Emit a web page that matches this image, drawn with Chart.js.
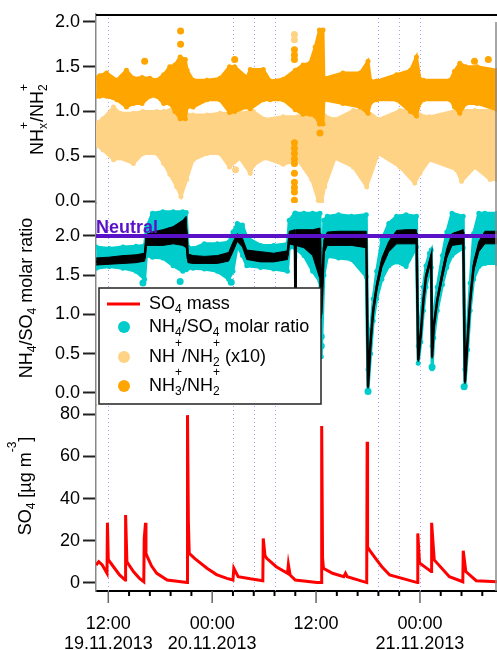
<!DOCTYPE html>
<html>
<head>
<meta charset="utf-8">
<style>
  html, body { margin: 0; padding: 0; background: #fff; }
  #wrap { width: 497px; height: 650px; }
</style>
</head>
<body>
<div id="wrap"><canvas id="chart" width="497" height="650"></canvas></div>
<script src="https://cdn.jsdelivr.net/npm/chart.js@4"></script>
<script>
// time axis is in hours counted from 19.11.2013 00:00
const xMin = 10.58, xMax = 56.9;
const majorHours = [12, 24, 36, 48];
const timeLabels = ['12:00', '00:00', '12:00', '00:00'];
const dateLabels = ['19.11.2013', '20.11.2013', '', '21.11.2013'];
const minorStepHours = 2.4;
const markerHours = [12, 26.4, 28.8, 31.2, 43.2, 45.6, 48];
const ratioTicks = [0, 0.5, 1, 1.5, 2];
const so4Ticks = [0, 20, 40, 60, 80];
const neutralRatio = 2.0;

// top panel: NH3+/NH2+ cloud (upper / lower edge)
const nh3Hours = [10.6, 11.0, 11.8, 13.0, 14.1, 14.9, 15.9, 16.8, 17.6, 18.4, 19.1, 19.7, 20.3, 20.9, 21.1, 21.8, 23.4, 24.9, 26.0, 26.6, 28.0, 28.4, 29.9, 30.7, 32.2, 33.6, 34.5, 35.3, 35.9, 36.4, 36.8, 36.9, 39.1, 41.1, 42.0, 42.3, 43.0, 45.3, 46.9, 47.6, 48.0, 48.4, 51.5, 52.0, 52.6, 53.3, 54.6, 56.9];
const nh3High = [1.37, 1.40, 1.43, 1.35, 1.46, 1.37, 1.38, 1.37, 1.35, 1.41, 1.50, 1.52, 1.61, 1.58, 1.46, 1.35, 1.35, 1.37, 1.50, 1.50, 1.38, 1.47, 1.47, 1.34, 1.36, 1.46, 1.52, 1.54, 1.72, 1.91, 1.91, 1.37, 1.43, 1.43, 1.56, 1.34, 1.34, 1.41, 1.46, 1.61, 1.36, 1.35, 1.35, 1.45, 1.54, 1.50, 1.50, 1.46];
const nh3Low = [1.17, 1.17, 1.17, 1.13, 1.05, 1.09, 1.09, 1.17, 1.17, 1.09, 1.09, 1.00, 0.92, 0.92, 1.05, 1.05, 1.13, 1.13, 0.99, 1.00, 1.05, 1.03, 1.13, 1.13, 1.13, 1.02, 0.97, 0.97, 0.95, 0.86, 0.86, 1.13, 1.09, 1.05, 0.98, 1.10, 1.13, 1.13, 1.00, 0.95, 1.10, 1.13, 1.13, 1.05, 0.98, 1.09, 1.09, 1.02];
const nh3DotHours = [16.2, 20.35, 20.35, 26.6, 33.5, 33.5, 33.5, 33.5, 33.5, 33.5, 33.5, 33.5, 33.5, 33.5, 33.5, 33.5, 33.5, 36.45, 54.3, 55.9];
const nh3DotValues = [1.56, 1.75, 1.90, 1.58, 1.69, 1.63, 1.58, 0.65, 0.59, 0.53, 0.47, 0.42, 0.31, 0.21, 0.15, 0.10, 0.01, 0.76, 1.56, 1.58];

// top panel: NH+/NH2+ (x10) cloud
const nhHours = [10.55, 11.4, 12.6, 13.35, 14.9, 16.0, 17.6, 18.4, 19.1, 19.9, 20.4, 21.05, 21.8, 23.4, 24.9, 26.0, 27.2, 28.4, 28.75, 30.1, 32.2, 33.9, 35.5, 36.25, 36.65, 37.0, 38.2, 40.3, 41.85, 43.2, 45.7, 47.4, 48.0, 49.1, 52.2, 52.8, 54.35, 56.1, 56.9];
const nhHigh = [0.87, 0.92, 1.05, 0.98, 0.98, 1.00, 1.00, 1.00, 1.01, 1.00, 0.98, 0.97, 0.96, 0.96, 0.98, 0.98, 0.98, 1.00, 1.00, 0.91, 0.94, 0.94, 1.01, 1.02, 1.03, 0.95, 0.91, 1.01, 1.01, 0.91, 1.01, 1.01, 0.96, 0.94, 1.01, 1.01, 1.01, 1.01, 1.01];
const nhLow = [0.63, 0.57, 0.46, 0.48, 0.42, 0.53, 0.53, 0.42, 0.30, 0.16, 0.05, 0.24, 0.46, 0.53, 0.53, 0.38, 0.48, 0.31, 0.40, 0.48, 0.41, 0.46, 0.24, 0.01, 0.00, 0.16, 0.48, 0.38, 0.16, 0.53, 0.38, 0.20, 0.31, 0.46, 0.35, 0.22, 0.38, 0.24, 0.24];
const nhDotHours = [33.5, 33.5, 36.5, 26.7];
const nhDotValues = [1.86, 1.80, 0.0, 0.35];

// middle panel: NH4/SO4 molar ratio
// black trace (centre, upper, lower) and cyan cloud (top, bottom)
const ratioHours = [10.6, 12.1, 13.7, 15.2, 16.2, 16.4, 17.1, 18.3, 19.5, 20.6, 21.0, 21.2, 21.8, 23.1, 24.6, 25.9, 26.4, 26.9, 27.5, 28.0, 29.6, 31.1, 32.7, 32.9, 33.55, 33.6, 33.65, 34.6, 35.6, 36.45, 36.6, 36.9, 37.3, 38.6, 40.1, 41.8, 42.0, 42.3, 42.6, 43.0, 43.6, 44.4, 45.3, 46.4, 47.6, 47.8, 48.1, 48.4, 48.7, 49.1, 49.3, 49.4, 49.6, 50.0, 50.6, 51.1, 51.7, 53.0, 53.2, 53.5, 53.8, 54.2, 54.8, 55.5, 56.9];
const ratioMid = [1.67, 1.69, 1.70, 1.71, 1.73, 1.97, 1.99, 2.00, 2.02, 2.04, 2.06, 1.72, 1.70, 1.70, 1.70, 1.74, 1.86, 1.98, 1.92, 1.76, 1.73, 1.72, 1.76, 1.97, 1.98, 1.35, 1.98, 1.99, 2.00, 2.02, 1.00, 1.85, 1.97, 1.98, 1.98, 1.98, 0.08, 0.65, 1.05, 1.35, 1.66, 1.86, 1.99, 2.01, 2.02, 0.42, 0.76, 1.18, 1.48, 1.65, 1.74, 0.46, 0.85, 1.18, 1.52, 1.78, 1.95, 2.03, 0.14, 0.68, 1.18, 1.61, 1.86, 1.99, 1.98];
const ratioMidHigh = [1.72, 1.73, 1.75, 1.76, 1.78, 2.02, 2.05, 2.08, 2.12, 2.20, 2.25, 1.77, 1.75, 1.74, 1.75, 1.79, 1.92, 2.03, 1.97, 1.82, 1.80, 1.78, 1.81, 2.06, 2.08, 1.40, 2.08, 2.08, 2.08, 2.10, 1.05, 1.95, 2.05, 2.06, 2.06, 2.06, 0.12, 0.70, 1.10, 1.40, 1.72, 1.93, 2.07, 2.08, 2.08, 0.46, 0.80, 1.22, 1.52, 1.69, 1.77, 0.50, 0.89, 1.22, 1.57, 1.84, 2.03, 2.08, 0.18, 0.72, 1.23, 1.67, 1.93, 2.06, 2.06];
const ratioMidLow = [1.63, 1.64, 1.65, 1.66, 1.68, 1.88, 1.88, 1.88, 1.90, 1.88, 1.85, 1.66, 1.65, 1.65, 1.65, 1.68, 1.80, 1.93, 1.86, 1.70, 1.67, 1.67, 1.70, 1.90, 1.88, 1.35, 1.88, 1.85, 1.75, 1.45, 0.95, 1.78, 1.88, 1.88, 1.88, 1.85, 0.06, 0.60, 1.00, 1.30, 1.60, 1.80, 1.90, 1.90, 1.90, 0.40, 0.72, 1.14, 1.44, 1.61, 1.70, 0.44, 0.81, 1.14, 1.47, 1.72, 1.88, 1.90, 0.12, 0.64, 1.13, 1.55, 1.80, 1.90, 1.90];
const ratioHigh = [1.86, 1.84, 1.86, 1.87, 1.88, 2.10, 2.29, 2.31, 2.31, 2.31, 2.30, 1.86, 1.84, 1.90, 1.90, 1.92, 2.05, 2.16, 2.14, 1.98, 1.88, 1.88, 1.90, 2.20, 2.29, 2.29, 2.29, 2.29, 2.29, 2.29, 1.10, 2.20, 2.25, 2.27, 2.25, 2.27, 0.30, 0.80, 1.20, 1.55, 1.95, 2.16, 2.25, 2.27, 2.25, 0.60, 0.95, 1.35, 1.62, 1.78, 1.82, 0.60, 1.00, 1.35, 1.75, 2.05, 2.29, 2.25, 0.30, 0.85, 1.40, 2.03, 2.29, 2.29, 2.29];
const ratioLow = [1.59, 1.61, 1.59, 1.55, 1.45, 1.75, 1.73, 1.72, 1.62, 1.55, 1.57, 1.59, 1.59, 1.58, 1.55, 1.45, 1.55, 1.88, 1.75, 1.62, 1.60, 1.58, 1.55, 1.85, 1.86, 1.86, 1.84, 1.75, 1.55, 1.42, 0.46, 1.50, 1.74, 1.72, 1.70, 1.48, 0.04, 0.50, 0.92, 1.20, 1.45, 1.62, 1.67, 1.61, 1.86, 0.38, 0.65, 1.05, 1.35, 1.55, 1.60, 0.31, 0.70, 1.05, 1.38, 1.60, 1.75, 1.85, 0.10, 0.55, 1.05, 1.45, 1.61, 1.65, 1.65];
const ratioDotHours = [16.0, 20.3, 26.2, 36.6, 36.6, 49.4, 42.0, 53.1];
const ratioDotValues = [1.40, 1.42, 1.41, 0.60, 0.72, 0.33, 0.02, 0.08];

// bottom panel: SO4 mass [ug m-3]
const so4Hours = [10.6, 10.9, 11.3, 11.85, 11.9, 12.0, 12.6, 13.3, 13.95, 14.0, 14.15, 14.9, 15.6, 16.1, 16.15, 16.3, 16.35, 16.5, 17.0, 17.6, 18.8, 21.1, 21.15, 21.25, 21.35, 22.0, 23.4, 24.5, 25.7, 26.4, 26.5, 27.0, 28.4, 29.85, 29.9, 30.1, 30.3, 31.4, 32.7, 32.8, 33.0, 33.6, 36.1, 36.6, 36.65, 36.75, 36.85, 37.9, 39.2, 39.4, 39.6, 41.85, 41.9, 41.95, 42.3, 43.0, 43.6, 44.5, 47.7, 47.75, 47.95, 49.3, 49.35, 49.65, 51.4, 52.95, 53.0, 53.3, 54.5, 56.9];
const so4Mass = [8.5, 10.1, 8.5, 4.6, 28.5, 11, 7.7, 3.8, 1.4, 32.2, 10, 5.4, 2.2, 0.6, 21, 28.5, 14, 12.5, 8, 4.6, 1.4, 0.2, 79.5, 29, 14, 11.5, 7, 4, 2.2, 1.4, 7, 3, 2, 1.1, 21.1, 13, 11.7, 7.7, 4.6, 8.8, 3.8, 1.4, 0.2, 0.2, 74.3, 12, 7, 4.6, 3, 4.6, 3, 0.2, 66.9, 17, 14.8, 10.9, 7.7, 3.8, 0.2, 23.5, 9.5, 5.4, 28.5, 10.9, 3, 0.6, 15.3, 5.4, 1.1, 0.6];

const FONT = '"Liberation Sans", Arial, sans-serif';
const RED = '#ff0000';
const CYAN = '#00cccc';
const LIGHT = '#ffd386';
const ORANGE = '#ffa500';
const PURPLE = '#5a12c8';

function pts(hours, values) {
  return hours.map((h, i) => ({ x: h, y: values[i] }));
}

function band(hours, low, high, color, axis, order, edge, radius) {
  const common = {
    yAxisID: axis, borderColor: color, backgroundColor: color, borderWidth: edge,
    pointRadius: radius, pointBackgroundColor: color, pointBorderWidth: 0, tension: 0, order
  };
  return [
    Object.assign({ data: pts(hours, low), fill: false }, common),
    Object.assign({ data: pts(hours, high), fill: '-1' }, common)
  ];
}

function dots(hours, values, color, axis, order) {
  return {
    data: pts(hours, values), yAxisID: axis, showLine: false, pointRadius: 3.5,
    pointBackgroundColor: color, pointBorderWidth: 0, borderColor: color, order
  };
}

// small helper for sub/superscripts: _x or _{..} and ^x or ^{..}
function richParts(str) {
  const parts = [];
  let i = 0;
  while (i < str.length) {
    const c = str[i];
    if (c === '_' || c === '^') {
      let t;
      if (str[i + 1] === '{') {
        const j = str.indexOf('}', i);
        t = str.slice(i + 2, j);
        i = j + 1;
      } else {
        t = str[i + 1];
        i += 2;
      }
      parts.push({ t, mode: c === '_' ? 'sub' : 'sup' });
    } else {
      let j = i;
      while (j < str.length && str[j] !== '_' && str[j] !== '^') j++;
      parts.push({ t: str.slice(i, j), mode: '' });
      i = j;
    }
  }
  return parts;
}

function drawRich(ctx, str, x, y, size, align) {
  const small = Math.round(size * 0.68);
  const parts = richParts(str);
  let pos = 0;
  parts.forEach((p, k) => {
    ctx.font = (p.mode ? small : size) + 'px ' + FONT;
    p.w = ctx.measureText(p.t).width;
    const prev = parts[k - 1];
    if (p.mode === 'sup' && prev && prev.mode === 'sub') {
      p.x = prev.x; // stacked sub + sup
      pos = Math.max(prev.x + prev.w, p.x + p.w);
    } else {
      p.x = pos;
      pos += p.w;
    }
  });
  const x0 = align === 'center' ? x - pos / 2 : x;
  ctx.textAlign = 'left';
  ctx.textBaseline = 'middle';
  parts.forEach(p => {
    ctx.font = (p.mode ? small : size) + 'px ' + FONT;
    const dy = p.mode === 'sub' ? size * 0.33 : p.mode === 'sup' ? -size * 0.72 : 0;
    ctx.fillText(p.t, x0 + p.x, y + dy);
  });
}

const decor = {
  id: 'decor',
  beforeDatasetsDraw(chart) {
    const { ctx, chartArea, scales } = chart;
    ctx.save();
    ctx.strokeStyle = '#a0a0ff';
    ctx.lineWidth = 1;
    ctx.setLineDash([1, 3]);
    markerHours.forEach(h => {
      const px = Math.round(scales.x.getPixelForValue(h)) + 0.5;
      ctx.beginPath();
      ctx.moveTo(px, chartArea.top);
      ctx.lineTo(px, chartArea.bottom);
      ctx.stroke();
    });
    ctx.restore();
  },
  afterDatasetsDraw(chart) {
    const { ctx, chartArea, scales } = chart;
    ctx.save();
    ctx.font = 'bold 18px ' + FONT;
    ctx.fillStyle = PURPLE;
    ctx.textAlign = 'left';
    ctx.textBaseline = 'alphabetic';
    ctx.fillText('Neutral', chartArea.left, scales.yMid.getPixelForValue(neutralRatio) - 3);
    ctx.restore();
  },
  afterDraw(chart) {
    const { ctx, chartArea, scales } = chart;
    ctx.save();
    // frame: top and right
    ctx.strokeStyle = '#000';
    ctx.lineWidth = 2;
    ctx.beginPath();
    ctx.moveTo(chartArea.left, chartArea.top + 1);
    ctx.lineTo(chartArea.right, chartArea.top + 1);
    ctx.stroke();
    ctx.strokeStyle = '#888';
    ctx.lineWidth = 1.5;
    ctx.beginPath();
    ctx.moveTo(chartArea.right - 1, chartArea.top + 8);
    ctx.lineTo(chartArea.right - 1, chartArea.bottom);
    ctx.stroke();

    // x ticks: long for the labelled ones
    scales.x.ticks.forEach(t => {
      const px = scales.x.getPixelForValue(t.value);
      const major = majorHours.includes(t.value);
      ctx.strokeStyle = major ? '#666' : '#000';
      ctx.lineWidth = major ? 1.5 : 2;
      ctx.beginPath();
      ctx.moveTo(px, chartArea.bottom);
      ctx.lineTo(px, chartArea.bottom + (major ? 12 : 5));
      ctx.stroke();
    });

    // axis titles (text, x centre, axis, shift from the panel middle)
    ctx.fillStyle = '#000';
    const titles = [
      ['NH_x^+/NH_2^+', 38, 'yTop', 11],
      ['NH_4/SO_4 molar ratio', 27, 'yMid', -6],
      ['SO_4 [µg m^{-3}]', 26, 'yBot', -12]
    ];
    titles.forEach(([txt, cx, id, shift]) => {
      const s = scales[id];
      ctx.save();
      ctx.translate(cx, (s.top + s.bottom) / 2 + shift);
      ctx.rotate(-Math.PI / 2);
      drawRich(ctx, txt, 0, 0, 18, 'center');
      ctx.restore();
    });

    // legend box
    const bx = 99, by = 288, bw = 222, bh = 116;
    ctx.fillStyle = '#fff';
    ctx.fillRect(bx, by, bw, bh);
    ctx.strokeStyle = '#222';
    ctx.lineWidth = 1.5;
    ctx.strokeRect(bx, by, bw, bh);
    const rows = [
      ['SO_4 mass', RED, 'line', 304],
      ['NH_4/SO_4 molar ratio', CYAN, 'dot', 327],
      ['NH^+/NH_2^+ (x10)', LIGHT, 'dot', 357],
      ['NH_3^+/NH_2^+', ORANGE, 'dot', 386]
    ];
    rows.forEach(([txt, color, kind, ry]) => {
      if (kind === 'line') {
        ctx.strokeStyle = color;
        ctx.lineWidth = 3;
        ctx.beginPath();
        ctx.moveTo(107, ry);
        ctx.lineTo(140, ry);
        ctx.stroke();
      } else {
        ctx.fillStyle = color;
        ctx.beginPath();
        ctx.arc(124, ry, 6, 0, Math.PI * 2);
        ctx.fill();
      }
      ctx.fillStyle = '#000';
      drawRich(ctx, txt, 149, ry, 18, 'left');
    });
    ctx.restore();
  }
};

const yCommon = {
  type: 'linear',
  position: 'left',
  stack: 'panels',
  grid: { drawOnChartArea: false, tickLength: 13, tickWidth: 2, tickColor: '#222' },
  border: { color: '#888', width: 1.5 },
  ticks: { font: { family: FONT, size: 18 }, color: '#000', padding: 3 },
  afterFit(s) { s.width = 96; }
};

const chart = new Chart(document.getElementById('chart'), {
  type: 'line',
  data: {
    datasets: [
      ...band(nhHours, nhLow, nhHigh, LIGHT, 'yTop', 12, 3, 2.5),
      ...band(nh3Hours, nh3Low, nh3High, ORANGE, 'yTop', 10, 3, 2.5),
      dots(nh3DotHours, nh3DotValues, ORANGE, 'yTop', 9),
      dots(nhDotHours, nhDotValues, LIGHT, 'yTop', 9),
      ...band(ratioHours, ratioLow, ratioHigh, CYAN, 'yMid', 8, 3, 2.5),
      dots(ratioDotHours, ratioDotValues, CYAN, 'yMid', 7),
      ...band(ratioHours, ratioMidLow, ratioMidHigh, '#000', 'yMid', 6, 1, 0),
      {
        data: pts(ratioHours, ratioMid), yAxisID: 'yMid', borderColor: '#000',
        borderWidth: 2.5, pointRadius: 0, tension: 0, fill: false, order: 4
      },
      {
        data: [{ x: xMin, y: neutralRatio }, { x: xMax, y: neutralRatio }], yAxisID: 'yMid',
        borderColor: PURPLE, borderWidth: 4, pointRadius: 0, fill: false, order: 3
      },
      {
        data: pts(so4Hours, so4Mass), yAxisID: 'yBot', borderColor: RED,
        borderWidth: 3, pointRadius: 0, tension: 0, fill: false, order: 2
      }
    ]
  },
  options: {
    responsive: false,
    animation: false,
    events: [],
    layout: { autoPadding: false, padding: { top: 14, right: 0, left: 0, bottom: 0 } },
    plugins: { legend: { display: false }, tooltip: { enabled: false } },
    scales: {
      x: {
        type: 'linear',
        position: 'bottom',
        min: xMin,
        max: xMax,
        // invisible tick marks only reserve room; the real ticks are drawn in the plugin
        grid: { display: true, drawOnChartArea: false, drawTicks: true, tickLength: 23, tickColor: 'rgba(0,0,0,0)' },
        border: { color: '#000', width: 2 },
        afterBuildTicks(s) {
          const list = [];
          for (let k = 0; 12 + minorStepHours * k <= xMax; k++) {
            list.push({ value: Math.round((12 + minorStepHours * k) * 10) / 10 });
          }
          s.ticks = list;
        },
        ticks: {
          autoSkip: false,
          maxRotation: 0,
          padding: 0,
          color: '#000',
          font: { family: FONT, size: 18, lineHeight: 1.12 },
          callback(v) {
            const i = majorHours.indexOf(v);
            return i < 0 ? '' : [timeLabels[i], dateLabels[i]];
          }
        },
        afterFit(s) { s.height = 59; }
      },
      yTop: Object.assign({}, yCommon, {
        weight: 3, stackWeight: 189, min: -0.022, max: 2.089,
        afterBuildTicks(s) { s.ticks = ratioTicks.map(v => ({ value: v })); },
        ticks: Object.assign({}, yCommon.ticks, { callback: v => v.toFixed(1) })
      }),
      yMid: Object.assign({}, yCommon, {
        weight: 2, stackWeight: 202, min: -0.153, max: 2.42,
        afterBuildTicks(s) { s.ticks = ratioTicks.map(v => ({ value: v })); },
        ticks: Object.assign({}, yCommon.ticks, { callback: v => v.toFixed(1) })
      }),
      yBot: Object.assign({}, yCommon, {
        weight: 1, stackWeight: 186, min: -3.79, max: 84.3,
        afterBuildTicks(s) { s.ticks = so4Ticks.map(v => ({ value: v })); },
        ticks: Object.assign({}, yCommon.ticks, { callback: v => String(v) })
      })
    }
  },
  plugins: [decor]
});
</script>
</body>
</html>
